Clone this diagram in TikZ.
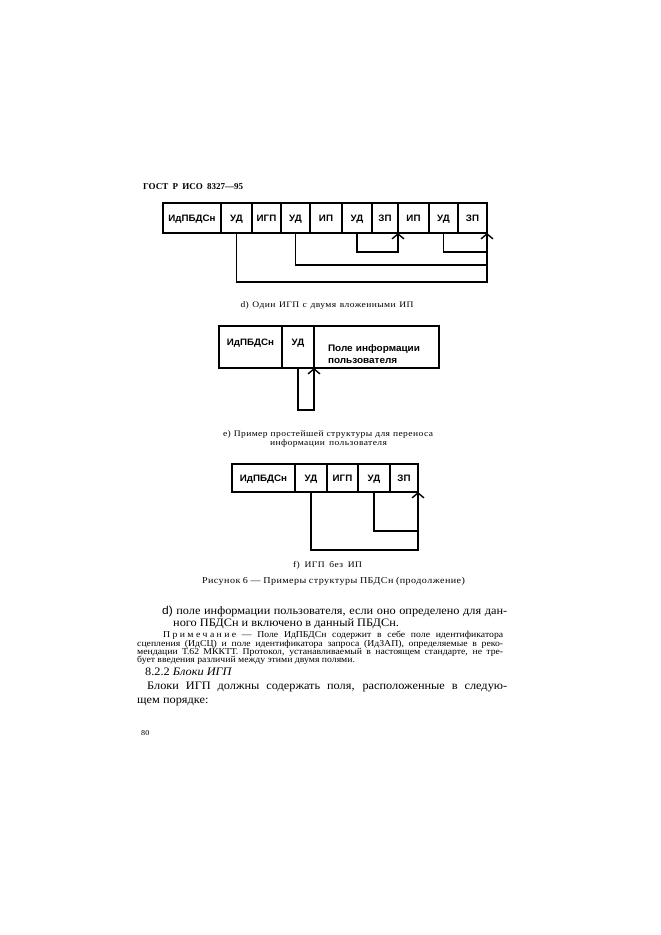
\documentclass[tikz,border=0pt]{standalone}
\usepackage{fontspec}
\setmainfont{Liberation Serif}[FakeStretch=1.08]
\newfontfamily\headfont{Liberation Serif}
\newfontfamily\cellfont{Liberation Sans}[FakeStretch=1.05]
\newfontfamily\capfont{Liberation Serif}[FakeStretch=1.12, LetterSpace=5]
\usetikzlibrary{arrows.meta}

\newcommand{\lsp}{\kern2.4pt}

\tikzset{
  cell/.style={draw, line width=1.1pt, inner sep=0pt, outer sep=0pt,
    text height=6.8pt, text depth=0pt,
    font=\cellfont\bfseries\fontsize{9.3}{10}\selectfont},
  link/.style={line width=1.4pt},
  ptr/.style={link, -{Straight Barb[length=5pt,width=12pt,line width=1.4pt]}},
  txt/.style={anchor=base west, inner sep=0pt},
  figcap/.style={anchor=base, inner sep=0pt, font=\capfont\fontsize{8.5}{10}\selectfont},
}

\begin{document}
\begin{tikzpicture}[x=1pt, y=-1pt]
  \useasboundingbox (0,0) rectangle (661,935);
  \fill[white] (0,0) rectangle (661,935);

  %% Header
  \node[txt, font=\headfont\bfseries\fontsize{9}{10}\selectfont] (head) at (143,189)
    {\makebox[100pt][s]{ГОСТ Р ИСО 8327—95}};

  %% d) one IGP with two nested IP
  \foreach \n/\a/\b/\t in {id/163/221/ИдПБДСн, ud1/221/252/УД, igp/252/281/ИГП,
      ud2/281/310/УД, ip1/310/342/ИП, ud3/342/372/УД, zp1/372/398/ЗП,
      ip2/398/429/ИП, ud4/429/458/УД, zp2/458/487/ЗП}
    \node[cell, minimum width={(\b-\a)*1pt}, minimum height=30pt] (d\n)
      at ({(\a+\b)/2},218) {\t};
  \draw[ptr] (dud1.south) -- ++(0,49) -| (dzp2.south east);
  \draw[link] (dud2.south) -- ++(0,32) -| (dzp2.south east);
  \draw[ptr] (dud3.south) -- ++(0,19) -| (dzp1.south east);
  \draw[link] (dud4.south) -- ++(0,19) -| (dzp2.south east);
  \node[figcap] (capd) at (327,307) {\makebox[173pt][s]{d) Один ИГП с двумя вложенными ИП}};

  %% e) simplest structure
  \node[cell, minimum width=63pt, minimum height=42pt, text height=19.5pt,
    text depth=22.5pt] (eid) at (250.5,347) {ИдПБДСн};
  \node[cell, minimum width=32pt, minimum height=42pt, text height=19.5pt,
    text depth=22.5pt] (eud) at (298,347) {УД};
  \node[cell, minimum height=42pt, text width=97pt, inner xsep=14pt, align=left,
    text height=19.5pt, text depth=10.5pt,
    font=\cellfont\bfseries\fontsize{9.5}{12}\selectfont] (einfo) at (376.5,347)
    {Поле информации\\пользователя};
  \draw[ptr] (eud.south) -- ++(0,42) -| (eud.south east);
  \node[figcap] (cape1) at (328,436) {\makebox[210pt][s]{е) Пример простейшей структуры для переноса}};
  \node[figcap] (cape2) at (328.5,445) {\makebox[117pt][s]{информации пользователя}};

  %% f) IGP without IP
  \foreach \n/\a/\b/\t in {id/232/295/ИдПБДСн, ud1/295/327/УД, igp/327/358/ИГП,
      ud2/358/390/УД, zp/390/418/ЗП}
    \node[cell, minimum width={(\b-\a)*1pt}, minimum height=28pt] (f\n)
      at ({(\a+\b)/2},478) {\t};
  \draw[ptr] (fud1.south) -- ++(0,58) -| (fzp.south east);
  \draw[link] (fud2.south) -- ++(0,39) -| (fzp.south east);
  \node[figcap] (capf) at (327.5,567) {\makebox[69pt][s]{f) ИГП без ИП}};
  \node[figcap, font=\capfont\fontsize{9}{11}\selectfont] (fig) at (333.5,583)
    {\makebox[263pt][s]{Рисунок 6 — Примеры структуры ПБДСн (продолжение)}};

  %% Body text
  \node[txt, font=\fontsize{11.4}{13}\selectfont] (b1) at (162,614)
    {\makebox[345pt][s]{{\cellfont d)} поле информации пользователя, если оно определено для дан-}};
  \node[txt, font=\fontsize{11.4}{13}\selectfont] (b2) at (173,626)
    {ного ПБДСн и включено в данный ПБДСн.};
  \node[txt, font=\fontsize{9}{10}\selectfont] (n1) at (163,637)
    {\makebox[340pt][s]{П\lsp р\lsp и\lsp м\lsp е\lsp ч\lsp а\lsp н\lsp и\lsp е — Поле ИдПБДСн содержит в себе поле идентификатора}};
  \node[txt, font=\fontsize{9}{10}\selectfont] (n2) at (137,646)
    {\makebox[366pt][s]{сцепления (ИдСЦ) и поле идентификатора запроса (ИдЗАП), определяемые в реко-}};
  \node[txt, font=\fontsize{9}{10}\selectfont] (n3) at (137,654)
    {\makebox[366pt][s]{мендации Т.62 МККТТ. Протокол, устанавливаемый в настоящем стандарте, не тре-}};
  \node[txt, font=\fontsize{9}{10}\selectfont] (n4) at (137,662)
    {бует введения различий между этими двумя полями.};
  \node[txt, font=\fontsize{11.4}{13}\selectfont] (sec) at (145,675)
    {8.2.2 \textit{Блоки ИГП}};
  \node[txt, font=\fontsize{11.4}{13}\selectfont] (b3) at (147,689)
    {\makebox[360pt][s]{Блоки ИГП должны содержать поля, расположенные в следую-}};
  \node[txt, font=\fontsize{11.4}{13}\selectfont] (b4) at (137,703)
    {щем порядке:};

  %% Page number
  \node[txt, font=\fontsize{7.5}{9}\selectfont] (page) at (141,735) {80};
\end{tikzpicture}
\end{document}
